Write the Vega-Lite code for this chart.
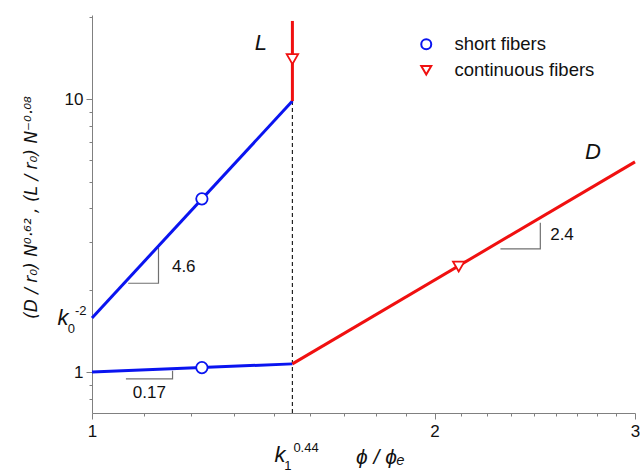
{
  "$schema": "https://vega.github.io/schema/vega-lite/v6.json",
  "autosize": {"type": "none"},
  "width": 543,
  "height": 398,
  "padding": {"left": 92, "top": 15, "right": 5, "bottom": 59},
  "background": "white",
  "config": {
    "view": {"stroke": null},
    "font": "Liberation Sans",
    "axis": {"grid": false, "domainColor": "#808080", "tickColor": "#808080", "labelColor": "#111111", "labelFontSize": 17, "titleColor": "#111111", "titleFontWeight": "normal", "labelFont": "Liberation Sans", "titleFont": "Liberation Sans"}
  },
  "datasets": {
    "lines": [
      {"series": "short", "seg": "L", "x": 1, "y": 1.58, "o": 1},
      {"series": "short", "seg": "L", "x": 1.5, "y": 9.86, "o": 2},
      {"series": "short", "seg": "D", "x": 1, "y": 1.0, "o": 1},
      {"series": "short", "seg": "D", "x": 1.5, "y": 1.072, "o": 2},
      {"series": "cont", "seg": "L", "x": 1.5, "y": 9.86, "o": 1},
      {"series": "cont", "seg": "L", "x": 1.5, "y": 19.4, "o": 2},
      {"series": "cont", "seg": "D", "x": 1.5, "y": 1.072, "o": 1},
      {"series": "cont", "seg": "D", "x": 3, "y": 5.9, "o": 2}
    ],
    "markers": [
      {"series": "short fibers", "x": 1.249, "y": 4.32},
      {"series": "short fibers", "x": 1.249, "y": 1.039},
      {"series": "continuous fibers", "x": 1.5, "y": 14.05},
      {"series": "continuous fibers", "x": 2.1, "y": 2.437}
    ],
    "slopes": [
      {"tri": "a", "x": 1.076, "y": 2.118, "o": 1},
      {"tri": "a", "x": 1.144, "y": 2.118, "o": 2},
      {"tri": "a", "x": 1.144, "y": 2.85, "o": 3},
      {"tri": "b", "x": 1.071, "y": 0.945, "o": 1},
      {"tri": "b", "x": 1.177, "y": 0.945, "o": 2},
      {"tri": "b", "x": 1.177, "y": 1.011, "o": 3},
      {"tri": "c", "x": 2.285, "y": 2.829, "o": 1},
      {"tri": "c", "x": 2.477, "y": 2.829, "o": 2},
      {"tri": "c", "x": 2.477, "y": 3.532, "o": 3}
    ],
    "vline": [{"x": 1.5, "y": 0.708, "y2": 9.86}],
    "big": [
      {"t": "L", "x": 1.407, "y": 15.16},
      {"t": "D", "x": 2.755, "y": 6.04},
      {"t": "k", "x": 1.463, "y": 0.469},
      {"t": "k", "x": 0.943, "y": 1.49}
    ],
    "nums": [
      {"t": "4.6", "x": 1.204, "y": 2.42},
      {"t": "0.17", "x": 1.123, "y": 0.838},
      {"t": "2.4", "x": 2.588, "y": 3.17}
    ],
    "sups": [
      {"t": "0.44", "x": 1.503, "y": 0.51},
      {"t": "-2", "x": 0.966, "y": 1.621}
    ],
    "subs": [
      {"t": "1", "x": 1.486, "y": 0.438},
      {"t": "0", "x": 0.959, "y": 1.393}
    ]
  },
  "encoding": {
    "x": {"field": "x", "type": "quantitative", "scale": {"type": "log", "domain": [1, 3], "nice": false},
      "axis": {"title": "ϕ / ϕₑ", "titleFontStyle": "italic", "titleFontSize": 21, "titlePadding": 7, "titleX": 288,
        "values": [1, 1.1111, 1.2222, 1.3333, 1.4444, 1.5556, 1.6667, 1.7778, 1.8889, 2, 2.1111, 2.2222, 2.3333, 2.4444, 2.5556, 2.6667, 2.7778, 2.8889, 3],
        "labelExpr": "datum.value==1?'1':datum.value==2?'2':datum.value==3?'3':''",
        "tickSize": {"condition": {"test": "datum.value==1||datum.value==2||datum.value==3", "value": 6}, "value": 3},
        "labelPadding": 4, "labelFlush": false, "labelOverlap": false}},
    "y": {"field": "y", "type": "quantitative", "scale": {"type": "log", "domain": [0.708, 20.4], "nice": false},
      "axis": {"title": "(D / r₀) N⁰·⁶² ,  (L / r₀) N⁻⁰·⁰⁸", "titleFont": "DejaVu Sans", "titleFontStyle": "italic", "titleFontSize": 17, "titlePadding": 24, "titleY": 192,
        "values": [0.8, 0.9, 1, 2, 3, 4, 5, 6, 7, 8, 9, 10, 20],
        "labelExpr": "datum.value==1?'1':datum.value==10?'10':''",
        "tickSize": {"condition": {"test": "datum.value==1||datum.value==10", "value": 6}, "value": 3},
        "labelPadding": 3, "labelFlush": false, "labelOverlap": false}}
  },
  "layer": [
    {"data": {"name": "vline"}, "mark": {"type": "rule", "color": "#222222", "strokeWidth": 1.2, "strokeDash": [4, 3]},
      "encoding": {"y2": {"field": "y2"}}},
    {"data": {"name": "slopes"}, "mark": {"type": "line", "color": "#707070", "strokeWidth": 1.2},
      "encoding": {"detail": {"field": "tri"}, "order": {"field": "o"}}},
    {"data": {"name": "lines"}, "transform": [{"filter": "datum.series=='short'"}],
      "mark": {"type": "line", "color": "#0a14f0", "strokeWidth": 3},
      "encoding": {"detail": {"field": "seg"}, "order": {"field": "o"}}},
    {"data": {"name": "lines"}, "transform": [{"filter": "datum.series=='cont'"}],
      "mark": {"type": "line", "color": "#f01010", "strokeWidth": 3},
      "encoding": {"detail": {"field": "seg"}, "order": {"field": "o"}}},
    {"data": {"name": "markers"}, "mark": {"type": "point", "filled": true, "fill": "white", "strokeWidth": 1.8, "opacity": 1},
      "encoding": {
        "stroke": {"field": "series", "type": "nominal", "scale": {"domain": ["short fibers", "continuous fibers"], "range": ["#0a14f0", "#f01010"]},
          "legend": {"title": null, "orient": "none", "legendX": 325, "legendY": 20, "labelFontSize": 18.5, "labelColor": "#111111", "symbolStrokeWidth": 2, "symbolFillColor": "white", "symbolSize": 100, "rowPadding": 7, "labelOffset": 19}},
        "shape": {"field": "series", "type": "nominal", "scale": {"domain": ["short fibers", "continuous fibers"], "range": ["circle", "triangle-down"]}},
        "size": {"value": 130}}},
    {"data": {"name": "big"}, "mark": {"type": "text", "fontSize": 22, "fontStyle": "italic", "align": "center", "baseline": "alphabetic", "color": "#111111"},
      "encoding": {"text": {"field": "t"}}},
    {"data": {"name": "nums"}, "mark": {"type": "text", "fontSize": 17, "align": "center", "baseline": "middle", "color": "#111111"},
      "encoding": {"text": {"field": "t"}}},
    {"data": {"name": "sups"}, "mark": {"type": "text", "fontSize": 13, "align": "left", "baseline": "alphabetic", "color": "#111111"},
      "encoding": {"text": {"field": "t"}}},
    {"data": {"name": "subs"}, "mark": {"type": "text", "fontSize": 13, "align": "center", "baseline": "alphabetic", "color": "#111111"},
      "encoding": {"text": {"field": "t"}}}
  ]
}
